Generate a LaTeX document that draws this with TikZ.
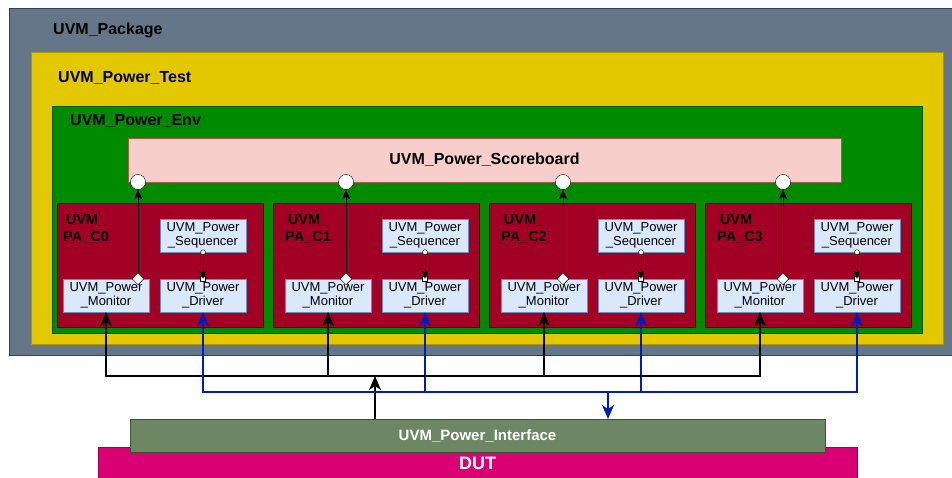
\documentclass[tikz,border=0pt]{standalone}
\usepackage{fontspec}
\setmainfont{Liberation Sans}
\usetikzlibrary{arrows.meta,positioning,shapes.geometric}
\definecolor{pkggray}{HTML}{647687}\definecolor{pkgline}{HTML}{314354}
\definecolor{testyellow}{HTML}{E3C800}\definecolor{testline}{HTML}{B09500}
\definecolor{envgreen}{HTML}{008A00}\definecolor{envline}{HTML}{005700}
\definecolor{scorepink}{HTML}{F8CECC}\definecolor{scoreline}{HTML}{B85450}
\definecolor{parred}{HTML}{A20025}\definecolor{parline}{HTML}{6F0000}
\definecolor{unitfill}{HTML}{DAE8FC}\definecolor{unitline}{HTML}{6C8EBF}
\definecolor{ifgreen}{HTML}{6D8764}\definecolor{ifline}{HTML}{3A5431}
\definecolor{dutpink}{HTML}{D80073}\definecolor{dutline}{HTML}{A50040}
\definecolor{wireblue}{HTML}{001DBC}

\begin{document}
\begin{tikzpicture}[x=1pt,y=1pt,
  frame/.style={draw,inner sep=0,outer sep=0},
  title/.style={anchor=west,inner sep=0,font=\bfseries\fontsize{16}{19}\selectfont},
  unit/.style={draw=unitline,fill=unitfill,minimum width=86pt,minimum height=33pt,inner sep=0,align=center,font=\fontsize{13}{14.5}\selectfont},
  link/.style={-{Stealth[length=10pt,width=9pt,inset=3pt]},line width=1pt},
  feed/.style={-{Stealth[length=8pt,width=7pt,inset=2pt]},line width=1pt},
  bus/.style={-{Stealth[length=14pt,width=12pt,inset=4pt]},line width=1.5pt}]
\useasboundingbox (0,0) rectangle (952,477);
% nested containers
\node[frame,fill=pkggray,draw=pkgline,minimum width=944pt,minimum height=347pt] (pkg) at (481,295.5) {};
\node[title] (pkgtitle) at (53,447) {UVM\_Package};
\node[frame,fill=testyellow,draw=testline,minimum width=912pt,minimum height=292pt] (test) at (487,279) {};
\node[title] (testtitle) at (58,399) {UVM\_Power\_Test};
\node[frame,fill=envgreen,draw=envline,minimum width=870pt,minimum height=227pt] (env) at (487,257.5) {};
\node[title] (envtitle) at (70,356) {UVM\_Power\_Env};
\node[frame,fill=scorepink,draw=scoreline,minimum width=713pt,minimum height=44pt,font=\bfseries\fontsize{16}{19}\selectfont] (scoreboard) at (484.5,317) {UVM\_Power\_Scoreboard};
% agents
\foreach \i/\l/\s/\c in {0/57/-6/138,1/273/0/346,2/489/0/563,3/705/0/783}{
  \node[frame,fill=parred,draw=parline,minimum width=206pt,minimum height=124pt,anchor=south west] (pa\i) at (\l,150) {};
  \node[font=\bfseries\fontsize{14.5}{17}\selectfont,align=center] (palabel\i) at (\l+\s+35,248) {UVM\_\\PA\_C\i};
  \node[unit] (mon\i) at (\l+\s+55,181.5) {UVM\_Power\\\_Monitor};
  \node[unit] (drv\i) at (\l+\s+152,181.5) {UVM\_Power\\\_Driver};
  \node[unit] (seq\i) at (\l+\s+152,241.5) {UVM\_Power\\\_Sequencer};
  \node[circle,draw,fill=white,minimum size=15pt,inner sep=0] (port\i) at (\c,295) {};
  \node[diamond,draw,fill=white,minimum size=12pt,inner sep=0] (dm\i) at (mon\i.north -| port\i) {};
  \draw[link] (dm\i) -- (port\i);
  \node[circle,draw,fill=white,minimum size=5pt,inner sep=0] (sd\i) at (seq\i.south) {};
  \node[draw,fill=white,minimum size=5pt,inner sep=0] (dd\i) at (drv\i.north) {};
  \draw[feed] (sd\i) -- (dd\i.center);
}
% interface and DUT
\node[frame,fill=dutpink,draw=dutline,minimum width=759pt,minimum height=32pt,text=white,font=\bfseries\fontsize{18}{20}\selectfont] (dut) at (477.5,14) {DUT};
\node[frame,fill=ifgreen,draw=ifline,minimum width=695pt,minimum height=33pt,text=white,font=\bfseries\fontsize{15}{18}\selectfont] (iface) at (477.5,41.5) {UVM\_Power\_Interface};
\coordinate (mbus) at (375,101);
\coordinate (dbus) at (608,85);
\draw[bus] (iface.north -| mbus) -- (mbus);
\draw[bus,draw=wireblue] (dbus) -- (iface.north -| dbus);
\foreach \i in {0,...,3}{
  \draw[bus] (mbus) -| (mon\i);
  \draw[bus,draw=wireblue] (dbus) -| (drv\i);
}
\end{tikzpicture}
\end{document}
